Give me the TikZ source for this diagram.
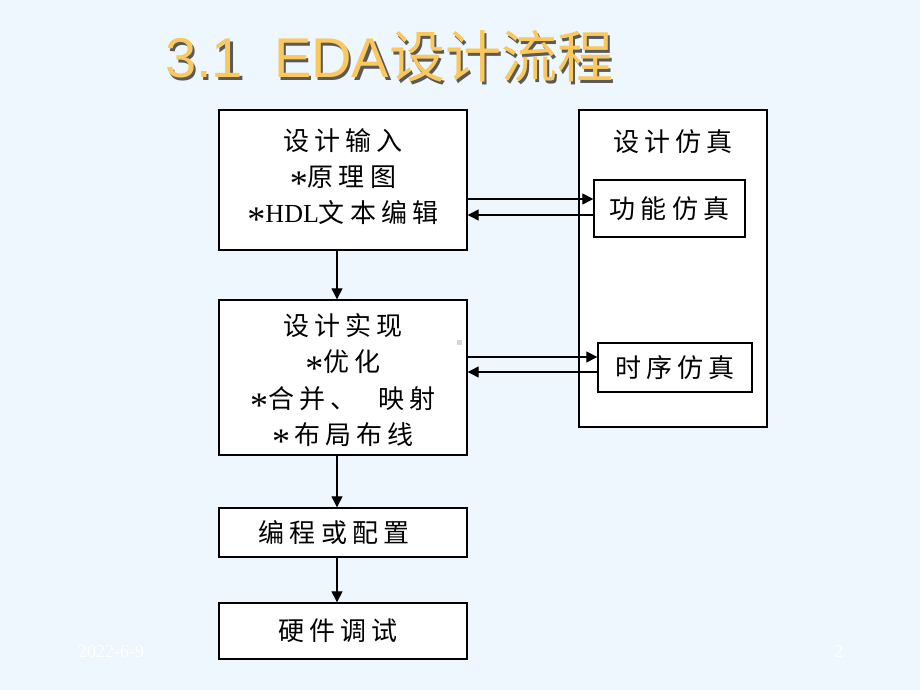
\documentclass[tikz,border=0pt]{standalone}
\usepackage{fontspec}
\setmainfont{Liberation Serif}
\newfontfamily\cjk[LetterSpace=20]{Noto Sans CJK SC}
\newfontfamily\cjktitle{Noto Sans CJK SC}
\newfontfamily\titlesans{Liberation Sans}
\usetikzlibrary{arrows.meta}
\definecolor{bg}{RGB}{238,246,254}
\definecolor{gold}{RGB}{250,200,92}
\definecolor{shadowc}{RGB}{90,90,90}
\definecolor{speck}{RGB}{215,215,215}
\newcommand\bulletast{{\rmfamily\fontsize{36}{36}\selectfont\raisebox{-9pt}{*}}}
\tikzset{
  boxstyle/.style={draw=black, line width=1.4pt, fill=white, inner sep=0pt, align=center,
    font=\cjk\fontsize{26}{36}\selectfont},
  arr/.style={line width=1.3pt, -{Triangle[length=11pt,width=11pt]}},
  titlestyle/.style={anchor=base west, inner sep=0pt, font=\fontsize{56}{60}\selectfont},
  footstyle/.style={text=white, inner sep=0pt, font=\fontsize{18}{20}\selectfont}
}
\begin{document}
\begin{tikzpicture}[x=1pt,y=-1pt]
\fill[bg] (0,0) rectangle (920,690);
\useasboundingbox (0,0) rectangle (920,690);
% title
\node[titlestyle, text=shadowc] (tshadow) at (167.5,80.5) {{\titlesans 3.1\ \ EDA}{\cjktitle 设计流程}};
\node[titlestyle, text=gold] (title) at (165,78) {{\titlesans 3.1\ \ EDA}{\cjktitle 设计流程}};
% left column
\node[boxstyle, minimum width=248pt, minimum height=140pt] (in) at (343,180)
  {设计输入\\\bulletast 原理图\\\bulletast{\rmfamily HDL}文本编辑};
\node[boxstyle, minimum width=248pt, minimum height=155pt, font=\cjk\fontsize{26}{36.5}\selectfont] (impl) at (343,377.5)
  {\rule{0pt}{34pt}设计实现\\\bulletast 优化\\\bulletast 合并、\ \ 映射\\\bulletast\,布局布线};
\node[boxstyle, minimum width=248pt, minimum height=49pt] (prog) at (343,532.5)
  {\hspace*{-18pt}编程或配置};
\node[boxstyle, minimum width=248pt, minimum height=56pt] (hw) at (343,631)
  {\hspace*{-10pt}硬件调试};
% simulation
\node[boxstyle, minimum width=188pt, minimum height=317pt] (sim) at (673,268.5) {};
\node[inner sep=0pt, font=\cjk\fontsize{26}{36}\selectfont] (simlabel) at (673,142) {设计仿真};
\node[boxstyle, minimum width=151pt, minimum height=57pt] (func) at (669.5,208.5) {功能仿真};
\node[boxstyle, minimum width=154pt, minimum height=49pt] (timing) at (675,367.5) {时序仿真};
% arrows
\draw[arr] (in.south -| 337,0) -- (impl.north -| 337,0);
\draw[arr] (impl.south -| 337,0) -- (prog.north -| 337,0);
\draw[arr] (prog.south -| 337,0) -- (hw.north -| 337,0);
\draw[arr] (in.east |- 0,199) -- (func.west |- 0,199);
\draw[arr] (func.west |- 0,215) -- (in.east |- 0,215);
\draw[arr] (impl.east |- 0,357) -- (timing.west |- 0,357);
\draw[arr] (timing.west |- 0,372) -- (impl.east |- 0,372);
% small speck
\fill[speck] (457,340) rectangle (462,345);
% footer
\node[footstyle, anchor=base west] (date) at (78,657) {2022-6-9};
\node[footstyle, anchor=base west] (page) at (834,657) {2};
\end{tikzpicture}
\end{document}
